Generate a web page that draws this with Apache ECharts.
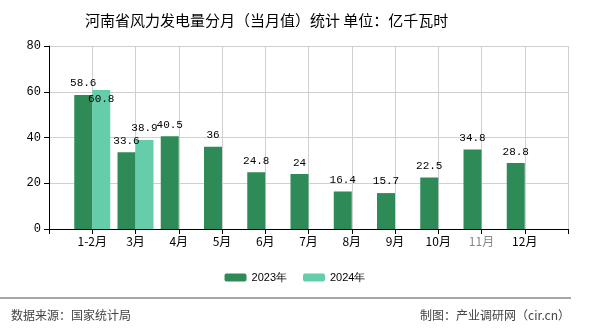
<!DOCTYPE html>
<html><head><meta charset="utf-8">
<script src="https://cdn.jsdelivr.net/npm/echarts@6/dist/echarts.min.js"></script>
<style>html,body{margin:0;padding:0;background:#fff}#c{width:590px;height:330px}</style>
</head><body><div id="c"></div>
<script>
const months = ['1-2月','3月','4月','5月','6月','7月','8月','9月','10月','11月','12月'];
const values2023 = [58.6,33.6,40.5,36,24.8,24,16.4,15.7,22.5,34.8,28.8];
const values2024 = [60.8,38.9];
const seriesNames = ['2023年','2024年'];
const yTicks = [0,20,40,60,80];

const cats = [''].concat(months).concat(['']);
function pad(arr){ const out=[null]; for(let i=0;i<months.length;i++) out.push(i<arr.length?arr[i]:null); out.push(null); return out; }

const chart = echarts.init(document.getElementById('c'));
const numFont = 'Liberation Mono';
const d2024 = pad(values2024).map((v,i)=> i===1 ? {value:v, label:{position:'insideTop', offset:[0,-2]}} : v);
chart.setOption({
  animation:false,
  title:{text:'河南省风力发电量分月（当月值）统计 单位：亿千瓦时',left:80,top:8,
    textStyle:{fontSize:15,fontWeight:'normal',color:'#000',fontFamily:'Noto Sans CJK SC'}},
  grid:{left:49,right:22,top:46,bottom:101,containLabel:false},
  legend:{bottom:42,left:'center',itemWidth:22,itemHeight:8,itemGap:16,
    textStyle:{fontSize:11,color:'#000',fontFamily:'Liberation Sans'},data:seriesNames},
  xAxis:{type:'category',data:cats,boundaryGap:false,
    axisLine:{lineStyle:{color:'#000'}},axisTick:{length:5,lineStyle:{color:'#000'}},
    axisLabel:{interval:0,fontSize:12,margin:6,fontFamily:'Noto Sans CJK SC',
      color:(v)=> v==='11月' ? '#888' : '#000'},
    splitLine:{show:true,lineStyle:{color:'#d0d0d0'}}},
  yAxis:{type:'value',min:yTicks[0],max:yTicks[yTicks.length-1],interval:20,
    axisLine:{show:true,lineStyle:{color:'#000'}},axisTick:{show:true,length:5,lineStyle:{color:'#000'}},
    axisLabel:{fontSize:12,color:'#000',fontFamily:numFont,margin:8},
    splitLine:{lineStyle:{color:'#d0d0d0'}}},
  series:[
    {name:seriesNames[0],type:'bar',data:pad(values2023),barWidth:18,barGap:'0%',
      itemStyle:{color:'#2e8b57'},
      label:{show:true,position:'top',distance:6,color:'#000',fontSize:11,fontFamily:numFont}},
    {name:seriesNames[1],type:'bar',data:d2024,barWidth:18,barGap:'0%',
      itemStyle:{color:'#66cdaa'},
      label:{show:true,position:'top',distance:6,color:'#000',fontSize:11,fontFamily:numFont}}
  ],
  graphic:[
    {type:'line',shape:{x1:0,y1:298,x2:571,y2:298},style:{stroke:'#888',lineWidth:1.5}},
    {type:'text',left:11,top:309,style:{text:'数据来源：国家统计局',fontSize:12,fill:'#444',fontFamily:'Noto Sans CJK SC'}},
    {type:'text',right:20,top:309,style:{text:'制图：产业调研网（cir.cn）',fontSize:12,fill:'#444',fontFamily:'Noto Sans CJK SC'}}
  ]
});
</script></body></html>
